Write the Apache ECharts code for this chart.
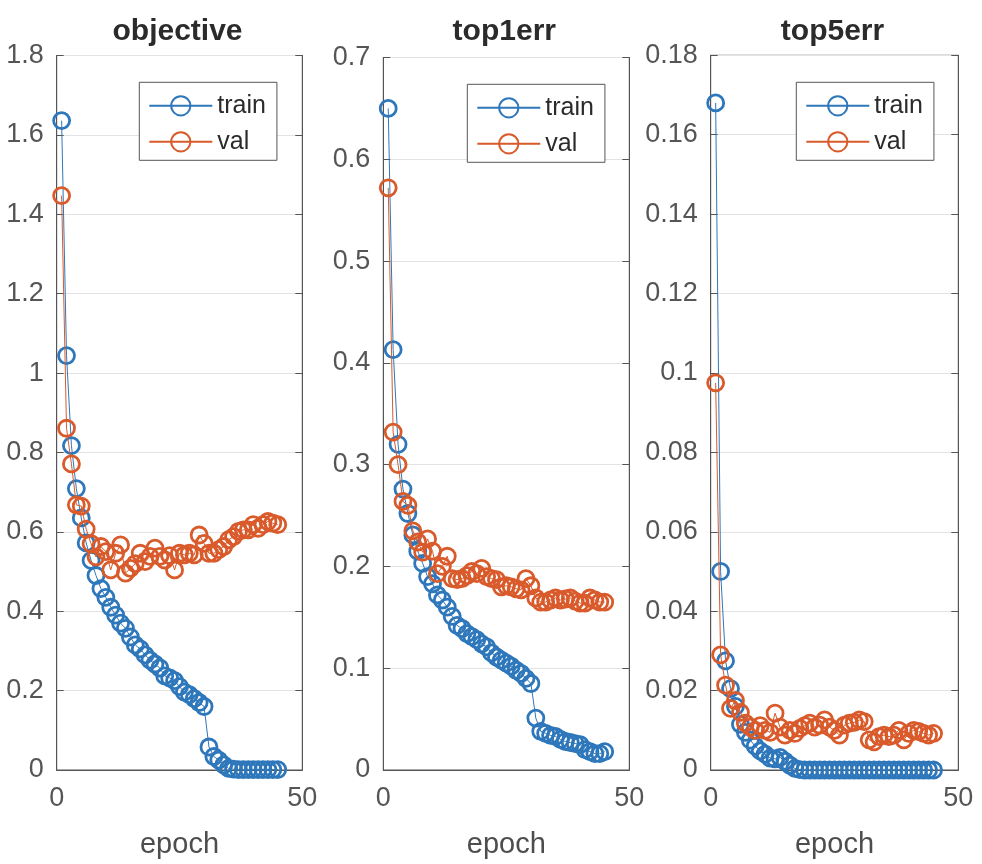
<!DOCTYPE html>
<html>
<head>
<meta charset="utf-8">
<script src="https://cdn.jsdelivr.net/npm/echarts@6/dist/echarts.min.js"></script>
<style>
html,body{margin:0;padding:0;background:#fff;}
#chart{width:982px;height:864px;}
</style>
</head>
<body>
<div id="chart"></div>
<script>
// ---- data ----
var epochs = [];
for (var i = 1; i <= 45; i++) epochs.push(i);

var objTrain = [1.636,1.044,0.817,0.709,0.635,0.572,0.528,0.490,0.457,0.435,0.410,0.390,0.370,0.357,0.335,0.315,0.305,0.290,0.277,0.267,0.257,0.237,0.232,0.225,0.210,0.196,0.190,0.180,0.170,0.160,0.058,0.034,0.025,0.013,0.004,0.002,0.001,0.001,0.001,0.001,0.001,0.001,0.001,0.001,0.001];
var objVal   = [1.447,0.861,0.771,0.668,0.665,0.607,0.570,0.537,0.563,0.550,0.504,0.546,0.567,0.496,0.508,0.520,0.546,0.525,0.538,0.559,0.538,0.529,0.540,0.504,0.546,0.542,0.546,0.542,0.592,0.571,0.546,0.546,0.555,0.563,0.580,0.588,0.601,0.605,0.605,0.618,0.609,0.618,0.626,0.622,0.618];

var top1Train = [0.650,0.413,0.320,0.276,0.252,0.231,0.215,0.203,0.190,0.183,0.172,0.167,0.160,0.151,0.142,0.139,0.134,0.131,0.128,0.124,0.121,0.115,0.111,0.108,0.105,0.102,0.098,0.095,0.090,0.085,0.051,0.038,0.036,0.034,0.033,0.030,0.028,0.027,0.026,0.025,0.020,0.018,0.016,0.016,0.018];
var top1Val   = [0.572,0.332,0.300,0.264,0.260,0.235,0.224,0.214,0.227,0.215,0.193,0.200,0.210,0.188,0.187,0.188,0.191,0.195,0.193,0.198,0.190,0.188,0.187,0.180,0.181,0.180,0.178,0.177,0.188,0.181,0.169,0.165,0.165,0.167,0.169,0.167,0.168,0.169,0.166,0.164,0.164,0.169,0.167,0.165,0.165];

var top5Train = [0.168,0.050,0.0275,0.0205,0.016,0.0115,0.0095,0.0075,0.006,0.0048,0.004,0.003,0.0028,0.0032,0.0022,0.0012,0.0004,0.0001,0,0,0,0,0,0,0,0,0,0,0,0,0,0,0,0,0,0,0,0,0,0,0,0,0,0,0];
var top5Val   = [0.0975,0.029,0.0214,0.0155,0.0175,0.0145,0.0118,0.0108,0.0100,0.0112,0.0100,0.0095,0.0143,0.0108,0.0088,0.0100,0.0092,0.0105,0.0112,0.0118,0.0108,0.0113,0.0126,0.0108,0.0100,0.0088,0.0113,0.0118,0.0120,0.0126,0.0122,0.0076,0.0071,0.0084,0.0088,0.0084,0.0088,0.0100,0.0076,0.0092,0.0100,0.0097,0.0092,0.0088,0.0092];

var titles = ['objective','top1err','top5err'];
var yMax = [1.8, 0.7, 0.18];
var yStep = [0.2, 0.1, 0.02];
var xTicks = [0, 50];
var seriesNames = ['train','val'];
var panelData = [[objTrain, objVal],[top1Train, top1Val],[top5Train, top5Val]];

// ---- layout / style ----
var FONT = '"Liberation Sans", Arial, Helvetica, sans-serif';
var colors = ['#2e77bb', '#d95a2b'];
var grids = [
  {left: 56.7, top: 55.5, width: 245.6, bottom: 94},
  {left: 383.3, top: 57.5, width: 246, bottom: 94},
  {left: 710.7, top: 55.3, width: 247.6, bottom: 94}
];
var legendPos = [
  {left: 139.3, top: 82.3},
  {left: 467.3, top: 84.3},
  {left: 796.3, top: 82.3}
];

function pairs(arr){ return arr.map(function(v,i){ return [epochs[i], v]; }); }
function decimals(step){ var s = String(step); return s.indexOf('.')<0 ? 0 : s.split('.')[1].length; }

var option = {
  animation: false,
  backgroundColor: '#fff',
  textStyle: {fontFamily: FONT},
  title: [], grid: [], xAxis: [], yAxis: [], legend: [], series: []
};

grids.forEach(function(g, p){
  option.grid.push({left: g.left, top: g.top, width: g.width, bottom: g.bottom,
    show: true, borderColor: '#555', borderWidth: 1, containLabel: false});
  option.title.push({
    text: titles[p], left: g.left + g.width/2 - 2, top: 17, textAlign: 'center', padding: 0,
    textStyle: {fontFamily: FONT, fontSize: 30, fontWeight: 'bold', color: '#2b2b2b'}
  });
  option.xAxis.push({
    type: 'value', gridIndex: p, min: xTicks[0], max: xTicks[1], interval: 50,
    name: 'epoch', nameLocation: 'middle', nameGap: 60,
    nameTextStyle: {fontFamily: FONT, fontSize: 29, color: '#4d4d4d'},
    axisLine: {show: true, lineStyle: {color: '#555', width: 1}},
    axisTick: {show: true, inside: true, length: 7, lineStyle: {color: '#555'}},
    axisLabel: {fontFamily: FONT, fontSize: 27, color: '#555', margin: 15},
    splitLine: {show: false}
  });
  var dec = decimals(yStep[p]);
  option.yAxis.push({
    type: 'value', gridIndex: p, min: 0, max: yMax[p], interval: yStep[p],
    axisLine: {show: true, lineStyle: {color: '#555', width: 1}},
    axisTick: {show: true, inside: true, length: 7, lineStyle: {color: '#555'}},
    axisLabel: {fontFamily: FONT, fontSize: 27, color: '#555', margin: 13,
      formatter: function(v){ return v === 0 ? '0' : (+v.toFixed(dec)).toString(); }},
    splitLine: {show: true, lineStyle: {color: '#e3e3e3', width: 1}}
  });
  option.yAxis.push({
    type: 'value', gridIndex: p, position: 'right', min: 0, max: yMax[p], interval: yStep[p],
    axisLine: {show: true, lineStyle: {color: '#555', width: 1}},
    axisTick: {show: true, inside: true, length: 7, lineStyle: {color: '#555'}},
    axisLabel: {show: false},
    splitLine: {show: false}
  });
  var names = seriesNames.map(function(n){ return n + (p === 0 ? '' : '\u200b'.repeat(p)); });
  option.legend.push({
    orient: 'vertical', left: legendPos[p].left, top: legendPos[p].top,
    data: names, selectedMode: false,
    backgroundColor: '#fff', borderColor: '#555', borderWidth: 1, borderRadius: 0,
    padding: [11, 11, 6, 9], itemWidth: 63, itemHeight: 24, itemGap: 11,
    textStyle: {fontFamily: FONT, fontSize: 25, color: '#2b2b2b'}
  });
  panelData[p].forEach(function(arr, s){
    option.series.push({
      name: names[s], type: 'line', xAxisIndex: p, yAxisIndex: p*2,
      data: pairs(arr), symbol: 'circle', symbolSize: 16, showAllSymbol: true,
      lineStyle: {color: colors[s], width: 1},
      itemStyle: {color: 'rgba(255,255,255,0)', borderColor: colors[s], borderWidth: 2.8},
      emphasis: {disabled: true}, z: 2 + s
    });
  });
});

var chart = echarts.init(document.getElementById('chart'), null, {renderer: 'canvas'});
chart.setOption(option);
</script>
</body>
</html>
